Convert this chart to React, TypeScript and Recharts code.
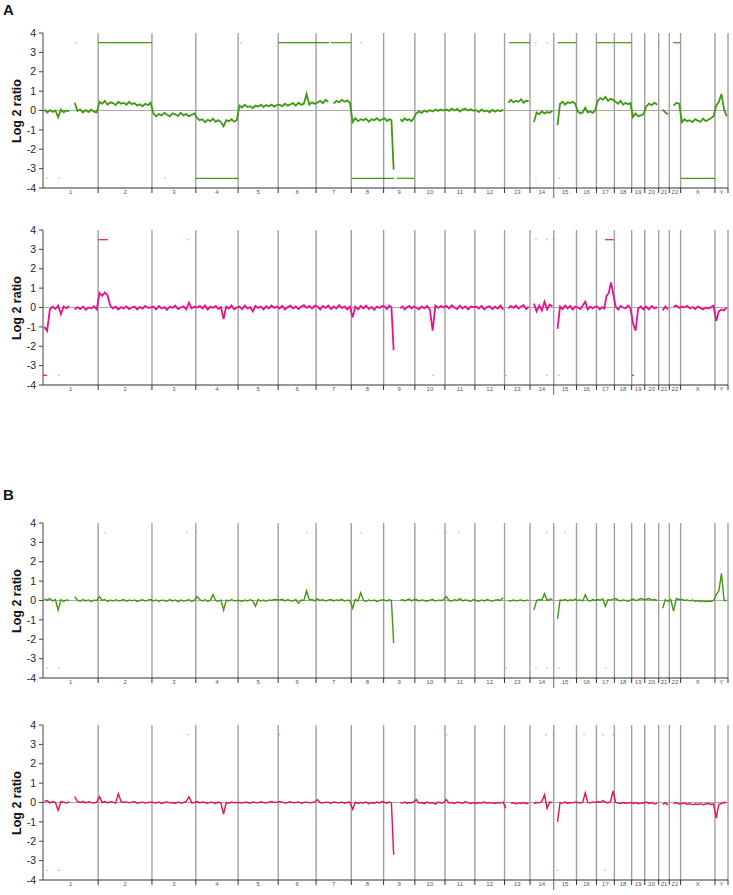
import { LineChart, Line, XAxis, YAxis, ReferenceLine } from 'recharts'

// chromosome layout (Mb, hg19-ish)
const chromNames = ['1', '2', '3', '4', '5', '6', '7', '8', '9', '10', '11', '12', '13', '14', '15', '16', '17', '18', '19', '20', '21', '22', 'X', 'Y']
const chromLengths = [249, 243, 198, 191, 181, 171, 159, 146, 141, 136, 135, 134, 115, 107, 103, 90, 81, 78, 59, 63, 48, 51, 155, 59]
const yTicks = [-4, -3, -2, -1, 0, 1, 2, 3, 4]

type Seg = (number | null)[]

// A, upper profile (green) - log2 ratios read per chromosome, left to right
const a1Log2: Seg[] = [
  [0.05, -0.1, 0.02, -0.08, 0.0, -0.35, 0.05, -0.1, 0.0, -0.05, null, 0.4, -0.02, 0.05, -0.1, 0.02, -0.08, 0.04, -0.06, -0.1],
  [0.45, 0.35, 0.5, 0.3, 0.42, 0.38, 0.28, 0.45, 0.35, 0.4, 0.3, 0.45, 0.33, 0.38, 0.25, 0.32, 0.22, 0.35, 0.28, 0.4],
  [-0.15, -0.3, -0.18, -0.25, -0.12, -0.22, -0.3, -0.15, -0.2, -0.28, -0.12, -0.25, -0.18, -0.3, -0.22, -0.15],
  [-0.4, -0.5, -0.45, -0.6, -0.48, -0.55, -0.42, -0.58, -0.5, -0.6, -0.82, -0.5, -0.55, -0.45, -0.58, -0.5],
  [0.25, 0.15, 0.3, 0.18, 0.22, 0.12, 0.25, 0.2, 0.3, 0.18, 0.28, 0.22, 0.3, 0.2, 0.28],
  [0.3, 0.22, 0.35, 0.25, 0.32, 0.38, 0.25, 0.4, 0.3, 0.35, 0.85, 0.3, 0.42, 0.35],
  [0.4, 0.5, 0.38, 0.55, 0.45, null, 0.35, 0.5, 0.42, 0.55, 0.45, 0.52, 0.4],
  [-0.6, -0.4, -0.55, -0.45, -0.5, -0.42, -0.58, -0.45, -0.5, -0.4, -0.52, -0.45],
  [-0.4, -0.55, -0.45, -0.5, -3.05, null, null, -0.45, -0.55, -0.4, -0.5, -0.45, -0.55, -0.4],
  [-0.15, -0.05, -0.12, 0.0, -0.08, 0.02, -0.05, 0.05, -0.02, 0.05, 0.0],
  [0.05, -0.02, 0.1, 0.0, 0.08, -0.05, 0.05, 0.1, 0.0, 0.06, -0.02],
  [0.02, -0.08, 0.05, -0.05, 0.0, -0.1, 0.03, -0.06, 0.02, -0.04, 0.05],
  [null, 0.4, 0.55, 0.42, 0.5, 0.45, 0.58, 0.4, 0.5, 0.48],
  [null, -0.6, -0.1, -0.2, -0.05, -0.15, -0.08, -0.12, 0.0],
  [null, -0.75, 0.35, 0.45, 0.3, 0.42, 0.38, 0.45, 0.35],
  [-0.05, -0.15, -0.1, 0.15, -0.1, -0.05, -0.12, 0.0],
  [0.5, 0.65, 0.55, 0.7, 0.5, 0.6, 0.55],
  [0.45, 0.35, 0.5, 0.3, 0.4, 0.32, 0.38],
  [-0.35, -0.15, -0.3, -0.25, -0.2],
  [0.2, 0.35, 0.28, 0.4, 0.3],
  [null, 0.05, -0.1, -0.2],
  [null, 0.25, 0.4, 0.35],
  [-0.6, -0.45, -0.55, -0.5, -0.6, -0.45, -0.52, -0.58, -0.42, -0.55, -0.48, -0.4, -0.3],
  [0.25, 0.45, 0.85, 0.05, -0.3],
]
const a1Gains = [[249, 492], [1062, 1291], [1300, 1392], [2105, 2199], [2325, 2409], [2499, 2578], [2582, 2658], [2845, 2877]]
const a1Losses = [[690, 881], [1392, 1585], [1598, 1679], [2879, 3034]]
const a1GainDots = [149, 894, 1436, 2226, 2276, 2781]
const a1LossDots = [18, 72, 551, 2226, 2330]

// A, lower profile (magenta)
const a2Log2: Seg[] = [
  [-1.0, -1.2, -0.1, 0.05, -0.08, 0.1, -0.35, 0.05, -0.05, 0.08, null, -0.1, 0.02, -0.08, 0.05, -0.12, 0.0, -0.05, 0.06, -0.1],
  [0.75, 0.6, 0.78, 0.62, 0.1, -0.05, 0.05, -0.1, 0.02, -0.05, 0.06, -0.08, 0.0, 0.05, -0.1, 0.03, -0.06, 0.08, -0.02, 0.0],
  [0.05, -0.1, 0.08, -0.05, 0.02, -0.12, 0.05, -0.02, 0.1, -0.08, 0.0, 0.06, -0.1, 0.25, -0.05, 0.05],
  [0.0, 0.08, -0.05, 0.1, -0.1, 0.05, -0.02, 0.08, -0.08, 0.02, -0.6, 0.05, -0.05, 0.1, -0.1, 0.0],
  [0.05, -0.08, 0.1, -0.05, 0.02, -0.2, 0.08, -0.02, 0.05, -0.1, 0.06, -0.05, 0.1, -0.02, 0.05],
  [-0.05, 0.08, -0.1, 0.02, 0.1, -0.05, 0.06, -0.08, 0.05, 0.12, -0.02, 0.08, -0.05, 0.1],
  [0.05, -0.1, 0.08, -0.02, 0.1, -0.08, 0.05, -0.05, 0.12, -0.03, 0.06, -0.1, 0.05],
  [-0.5, 0.05, -0.1, 0.08, -0.05, 0.1, -0.08, 0.03, -0.12, 0.05, -0.02, 0.08],
  [0.05, -0.08, 0.1, 0.02, -2.2, null, null, -0.05, 0.06, -0.1, 0.02, 0.08, -0.05, 0.05],
  [0.0, -0.1, 0.05, -0.05, 0.08, -0.12, -1.2, 0.1, -0.02, 0.08, 0.0],
  [0.08, -0.05, 0.12, 0.0, -0.08, 0.1, -0.05, 0.06, -0.1, 0.05, 0.02],
  [0.05, -0.05, 0.08, -0.1, 0.02, 0.06, -0.08, 0.04, -0.05, 0.1, -0.12],
  [null, -0.05, 0.08, -0.02, 0.1, -0.05, 0.05, 0.12, -0.08, 0.05],
  [null, 0.2, -0.2, 0.1, -0.15, 0.3, -0.1, 0.15, 0.05],
  [null, -1.1, 0.05, -0.08, 0.1, -0.05, 0.08, -0.1, 0.05],
  [0.0, -0.08, 0.1, 0.3, -0.1, 0.05, -0.05, 0.05],
  [0.05, -0.1, 0.02, -0.05, 0.6, 0.75, 1.3, 0.7],
  [0.05, -0.1, 0.08, 0.0, -0.05, 0.1, -0.02],
  [-0.8, -1.2, -0.05, 0.05, -0.1],
  [0.05, -0.1, 0.08, -0.05, 0.02],
  [null, -0.15, 0.05, -0.1],
  [null, 0.05, 0.1, -0.02],
  [0.05, 0.0, 0.08, -0.05, 0.02, -0.08, 0.05, -0.02, -0.1, 0.0, -0.05, 0.02, 0.1],
  [-0.7, -0.2, -0.1, -0.15, 0.0],
]
const a2Gains = [[249, 293], [2538, 2578]]
const a2Losses = [[0, 18], [2660, 2668]]
const a2GainDots = [655, 2226, 2276, 2307]
const a2LossDots = [72, 1761, 2091, 2276, 2330]

// B, upper profile (green)
const b1Log2: Seg[] = [
  [0.08, 0.02, 0.1, -0.02, 0.05, -0.5, 0.05, -0.05, 0.03, 0.0, null, 0.2, 0.02, -0.04, 0.05, -0.02, 0.03, -0.05, 0.02, 0.0],
  [0.2, 0.0, 0.05, -0.05, 0.02, -0.03, 0.04, -0.02, 0.0, 0.05, -0.04, 0.02, -0.02, 0.03, -0.05, 0.0, 0.04, -0.03, 0.02, 0.05],
  [-0.02, 0.03, -0.05, 0.02, 0.0, -0.04, 0.05, -0.02, 0.03, -0.06, 0.02, -0.03, 0.0, 0.04, -0.05, 0.02],
  [0.2, 0.05, -0.02, 0.04, -0.05, 0.02, 0.3, 0.0, -0.04, 0.03, -0.5, 0.02, -0.03, 0.05, -0.02, 0.0],
  [0.0, -0.04, 0.02, -0.03, 0.04, -0.02, -0.3, 0.05, -0.03, 0.02, -0.04, 0.03, 0.0, 0.05, 0.04],
  [0.03, 0.06, -0.02, 0.04, 0.0, -0.03, 0.05, -0.15, 0.02, 0.0, 0.5, 0.03, 0.05, -0.02],
  [0.08, 0.0, 0.04, -0.03, 0.02, 0.05, -0.02, 0.03, 0.0, 0.06, -0.03, 0.02, 0.0],
  [-0.4, 0.05, -0.02, 0.4, 0.0, -0.04, 0.03, -0.02, 0.02, -0.05, 0.0, 0.03],
  [0.02, -0.03, 0.04, 0.0, -2.2, null, null, 0.0, 0.05, -0.02, 0.03, 0.08, -0.02, 0.04],
  [0.05, -0.02, 0.03, 0.0, -0.04, 0.02, 0.05, -0.03, 0.02, 0.0, 0.04],
  [0.2, 0.0, -0.03, 0.04, 0.0, 0.1, -0.02, 0.03, 0.0, -0.04, 0.05],
  [0.0, -0.04, 0.03, -0.02, 0.05, 0.0, -0.03, 0.02, 0.04, 0.0, 0.15],
  [null, 0.0, -0.03, 0.02, -0.02, 0.0, 0.03, -0.03, 0.02, 0.0],
  [null, -0.5, 0.0, 0.05, 0.02, 0.35, 0.0, 0.05, 0.08],
  [null, -0.95, 0.02, 0.0, 0.05, -0.02, 0.04, 0.0, 0.08],
  [0.0, 0.03, -0.02, 0.3, 0.02, -0.03, 0.05, 0.0],
  [0.05, 0.02, 0.08, -0.3, 0.05, 0.02, 0.06],
  [0.1, 0.02, -0.02, 0.03, 0.0, -0.04, 0.02],
  [0.08, 0.0, 0.03, 0.1, 0.05],
  [0.05, 0.1, 0.02, 0.05, 0.0],
  [null, -0.4, 0.05, -0.05],
  [0.05, -0.55, 0.1, 0.05],
  [0.05, 0.0, 0.03, -0.02, 0.02, -0.04, 0.0, -0.05, -0.02, -0.06, -0.03, -0.05, 0.0],
  [0.3, 0.5, 1.4, 0.0, 0.0],
]
const b1Gains: number[][] = []
const b1Losses: number[][] = []
const b1GainDots = [280, 650, 691, 1192, 1436, 1820, 1878, 2276, 2357]
const b1LossDots = [18, 72, 2091, 2226, 2276, 2330, 2542]

// B, lower profile (red-pink)
const b2Log2: Seg[] = [
  [0.05, 0.1, -0.02, 0.05, 0.0, -0.4, 0.05, 0.02, -0.03, 0.05, null, 0.3, 0.05, 0.0, 0.06, -0.02, 0.04, 0.0, -0.03, 0.02],
  [0.3, 0.0, 0.05, -0.02, 0.04, 0.02, -0.03, 0.45, 0.05, 0.0, 0.03, -0.02, 0.02, 0.05, -0.04, 0.0, 0.02, -0.03, 0.0, 0.02],
  [0.0, -0.03, 0.02, -0.05, 0.0, 0.03, -0.02, 0.0, -0.05, 0.02, -0.03, 0.0, 0.05, 0.3, -0.02, 0.0],
  [0.05, -0.02, 0.03, 0.0, -0.04, 0.02, 0.0, -0.05, 0.02, -0.03, -0.6, 0.0, -0.04, 0.02, -0.02, 0.0],
  [0.0, -0.03, 0.02, 0.0, -0.04, 0.03, 0.0, -0.02, 0.04, 0.0, -0.03, 0.02, 0.05, 0.0, 0.02],
  [0.05, 0.02, -0.03, 0.0, 0.04, -0.02, 0.0, 0.03, -0.04, 0.0, 0.02, -0.02, 0.0, 0.03],
  [0.15, 0.0, -0.03, 0.02, 0.0, -0.04, 0.03, 0.0, -0.02, 0.02, -0.04, 0.0, 0.02],
  [-0.35, 0.02, -0.05, 0.0, -0.03, 0.02, -0.06, 0.0, -0.04, 0.02, -0.02, 0.05],
  [0.0, -0.04, 0.02, -0.02, -2.7, null, null, 0.0, -0.03, 0.02, -0.05, 0.0, -0.02, 0.03],
  [0.15, -0.02, 0.0, -0.06, 0.02, -0.04, 0.0, -0.08, 0.02, -0.03, 0.0],
  [0.15, -0.03, 0.0, -0.05, 0.02, 0.0, -0.04, 0.05, -0.02, -0.05, 0.0],
  [-0.05, 0.0, -0.03, 0.02, -0.04, 0.0, -0.02, -0.05, 0.0, -0.03, 0.02],
  [-0.3, null, -0.05, 0.0, -0.08, -0.02, -0.05, 0.0, -0.06, -0.02],
  [null, -0.05, 0.0, -0.02, 0.05, 0.4, -0.3, 0.02, 0.0],
  [null, -1.0, 0.0, -0.03, 0.02, -0.05, 0.0, -0.02, 0.03],
  [0.0, -0.03, 0.02, 0.5, 0.0, -0.02, 0.03, 0.0],
  [0.05, 0.0, 0.1, 0.02, -0.02, 0.05, 0.6],
  [0.0, -0.03, -0.05, 0.0, -0.04, -0.02, 0.0],
  [-0.05, 0.0, -0.06, -0.02, -0.04],
  [0.02, -0.05, 0.0, -0.08, -0.03],
  [null, -0.1, -0.02, -0.12],
  [null, -0.05, 0.0, -0.08],
  [-0.05, -0.02, -0.1, -0.05, -0.12, -0.08, -0.1, -0.06, -0.12, -0.08, -0.05, -0.1, -0.08],
  [-0.8, -0.1, -0.05, 0.0, 0.0],
]
const b2Gains: number[][] = []
const b2Losses: number[][] = []
const b2GainDots = [655, 1066, 1820, 2271, 2307, 2443, 2529, 2574]
const b2LossDots = [18, 72, 2325, 2538]

const starts = chromLengths.map((_, i) => chromLengths.slice(0, i).reduce((s, v) => s + v, 0))
const total = chromLengths.reduce((s, v) => s + v, 0)
const bounds = [...starts.slice(1), total]
const mids = starts.map((s, i) => s + chromLengths[i] / 2)
const xTicks = [...bounds, ...mids]

const buildRows = (segs: Seg[]) =>
  segs.flatMap((vals, c) =>
    vals.map((v, i) => ({ pos: starts[c] + ((i + 0.5) / vals.length) * chromLengths[c], v })),
  )

const font = '"Liberation Sans", Arial, Helvetica, sans-serif'
const PLOT_H = 155

function ChromTick(props: any) {
  const { x, y, payload } = props
  const bi = bounds.indexOf(payload.value)
  if (bi >= 0) {
    const blue = bi === 13
    return <line x1={x} x2={x} y1={y} y2={y + (blue ? 10 : 5)} stroke={blue ? '#5555ee' : '#333'} strokeWidth={1} />
  }
  const mi = mids.indexOf(payload.value)
  return (
    <text x={x} y={y + 6} textAnchor="middle" fontSize={6} fill="#555" fontFamily={font}>
      {chromNames[mi]}
    </text>
  )
}

interface PanelProps {
  top: number
  segs: Seg[]
  color: string
  gains: number[][]
  losses: number[][]
  gainDots: number[]
  lossDots: number[]
  width?: number
}

function Panel({ top, segs, color, gains, losses, gainDots, lossDots, width = 1.8 }: PanelProps) {
  const rows = buildRows(segs)
  const mark = (a: number, b: number, y: number, k: string) => (
    <ReferenceLine key={k} segment={[{ x: a, y }, { x: b, y }]} stroke={color} strokeWidth={1.2} />
  )
  return (
    <div style={{ position: 'absolute', left: 0, top: top - 5 }}>
      <div
        style={{
          position: 'absolute', left: 17, top: 5 + PLOT_H / 2,
          transform: 'translate(-50%, -50%) rotate(-90deg)', whiteSpace: 'nowrap',
          fontFamily: font, fontWeight: 'bold', fontSize: 12.5, color: '#111',
        }}
      >
        Log 2 ratio
      </div>
      <LineChart width={733} height={PLOT_H + 5 + 15} data={rows} margin={{ top: 5, right: 5, bottom: 0, left: 0 }}>
        <XAxis
          dataKey="pos" type="number" domain={[0, total]} ticks={xTicks} interval={0}
          tick={<ChromTick />} tickLine={false} tickSize={0} tickMargin={0} height={15}
          axisLine={{ stroke: '#333' }} allowDataOverflow
        />
        <YAxis
          type="number" domain={[-4, 4]} ticks={yTicks} interval={0} width={43}
          tickSize={4} tickMargin={3} axisLine={{ stroke: '#444' }} tickLine={{ stroke: '#444' }}
          tick={{ fontSize: 10.5, fill: '#222', fontFamily: font }} allowDataOverflow
        />
        <ReferenceLine y={0} stroke="#aaa" strokeWidth={1} />
        {bounds.map((b) => (
          <ReferenceLine key={b} x={b} stroke="#a0a0a0" strokeWidth={1.4} />
        ))}
        {gains.map(([a, b], i) => mark(a, b, 3.5, 'g' + i))}
        {losses.map(([a, b], i) => mark(a, b, -3.5, 'l' + i))}
        {gainDots.map((p, i) => mark(p - 1.5, p + 1.5, 3.5, 'gd' + i))}
        {lossDots.map((p, i) => mark(p - 1.5, p + 1.5, -3.5, 'ld' + i))}
        <Line
          dataKey="v" type="linear" stroke={color} strokeWidth={width} dot={false}
          connectNulls={false} isAnimationActive={false}
        />
      </LineChart>
    </div>
  )
}

export default function App() {
  const letter = { position: 'absolute' as const, left: 3, fontFamily: font, fontWeight: 'bold' as const, fontSize: 15, color: '#111' }
  return (
    <div style={{ position: 'absolute', left: 0, top: 0, width: 733, height: 895, background: '#fff' }}>
      <div style={{ ...letter, top: 1 }}>A</div>
      <div style={{ ...letter, top: 486 }}>B</div>
      <Panel top={33} segs={a1Log2} color="#3f9a10" gains={a1Gains} losses={a1Losses} gainDots={a1GainDots} lossDots={a1LossDots} />
      <Panel top={230} segs={a2Log2} color="#e8108c" gains={a2Gains} losses={a2Losses} gainDots={a2GainDots} lossDots={a2LossDots} />
      <Panel top={523} segs={b1Log2} color="#3f9a10" gains={b1Gains} losses={b1Losses} gainDots={b1GainDots} lossDots={b1LossDots} width={1.4} />
      <Panel top={725} segs={b2Log2} color="#e0105a" gains={b2Gains} losses={b2Losses} gainDots={b2GainDots} lossDots={b2LossDots} width={1.4} />
    </div>
  )
}
